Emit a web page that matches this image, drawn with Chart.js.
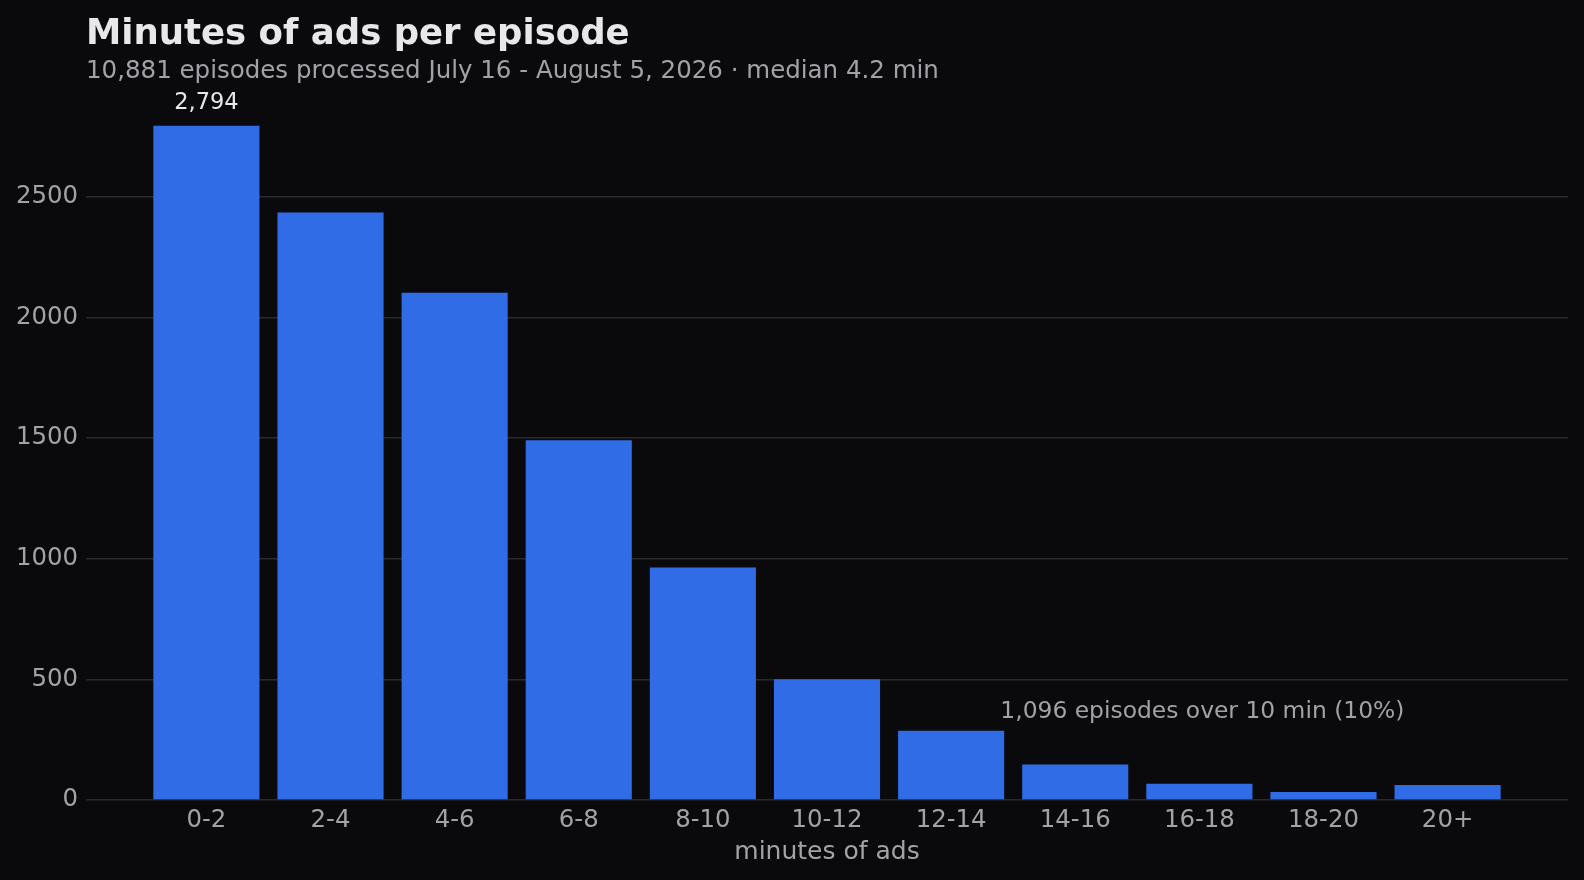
<!DOCTYPE html>
<html>
<head>
<meta charset="utf-8">
<title>Minutes of ads per episode</title>
<script src="https://cdn.jsdelivr.net/npm/chart.js@4.4.1/dist/chart.umd.min.js"></script>
<style>
  html, body { margin: 0; padding: 0; background: #0a0a0c; }
  #wrap { width: 1584px; height: 880px; }
</style>
</head>
<body>
<div id="wrap"><canvas id="myChart" width="1584" height="880"></canvas></div>
<script>
'use strict';

// chart data
let buckets = ['0-2', '2-4', '4-6', '6-8', '8-10', '10-12', '12-14', '14-16', '16-18', '18-20', '20+'];
let episodeCounts = [2794, 2435, 2102, 1491, 963, 500, 287, 147, 67, 33, 62];
let yTicks = [0, 500, 1000, 1500, 2000, 2500];

let titleText = 'Minutes of ads per episode';
let subtitleText = '10,881 episodes processed July 16 - August 5, 2026 \u00b7 median 4.2 min';
let xTitleText = 'minutes of ads';
let noteText = '1,096 episodes over 10 min (10%)';
let noteAt = [8, 365]; // bucket index, count

let font = '"DejaVu Sans", "Liberation Sans", sans-serif';
let bg = '#0a0a0c';
let barColor = '#2f6ce5';
let textLight = '#e8e8ea';
let textGray = '#a2a2a8';
let gridColor = '#2a2a2e';

// build points for a linear x axis so the margins match
let points = [];
for (let i = 0; i < episodeCounts.length; i++) {
  points.push({ x: i, y: episodeCounts[i] });
}

// draws title, labels and the note
let textPlugin = {
  id: 'textPlugin',
  beforeDraw(chart) {
    let ctx = chart.ctx;
    ctx.save();
    ctx.fillStyle = bg;
    ctx.fillRect(0, 0, chart.width, chart.height);
    ctx.restore();
  },
  afterDraw(chart) {
    let ctx = chart.ctx;
    let xs = chart.scales.x;
    let ys = chart.scales.y;
    let left = chart.chartArea.left;
    ctx.save();
    ctx.textBaseline = 'middle';

    ctx.fillStyle = textLight;
    ctx.font = 'bold 35.5px ' + font;
    ctx.textAlign = 'left';
    ctx.fillText(titleText, left, 35);

    ctx.fillStyle = textGray;
    ctx.font = '24.5px ' + font;
    ctx.fillText(subtitleText, left, 72);

    // largest bar gets its value on top
    let maxIdx = episodeCounts.indexOf(Math.max(...episodeCounts));
    ctx.textAlign = 'center';
    ctx.fillStyle = textLight;
    ctx.font = '22.5px ' + font;
    ctx.fillText(episodeCounts[maxIdx].toLocaleString('en-US'),
      xs.getPixelForValue(maxIdx), ys.getPixelForValue(episodeCounts[maxIdx]) - 23);

    ctx.fillStyle = textGray;
    ctx.font = '23.4px ' + font;
    ctx.fillText(noteText, xs.getPixelForValue(noteAt[0]) + 3, ys.getPixelForValue(noteAt[1]));

    ctx.font = '25px ' + font;
    ctx.fillText(xTitleText, (chart.chartArea.left + chart.chartArea.right) / 2, 852);
    ctx.restore();
  }
};

let config = {
  type: 'bar',
  data: {
    datasets: [{
      label: 'episodes',
      data: points,
      backgroundColor: barColor,
      borderWidth: 0,
      barPercentage: 0.855,
      categoryPercentage: 1
    }]
  },
  options: {
    responsive: false,
    animation: false,
    devicePixelRatio: 1,
    layout: { padding: { left: 0, right: 16, top: 92, bottom: 0 } },
    plugins: {
      legend: { display: false },
      tooltip: { enabled: false }
    },
    scales: {
      x: {
        type: 'linear',
        min: -0.97,
        max: 10.97,
        offset: false,
        grid: { display: false, drawTicks: false },
        border: { display: false },
        afterBuildTicks(scale) {
          scale.ticks = buckets.map((b, i) => ({ value: i }));
        },
        afterFit(scale) {
          scale.height = 80;
        },
        ticks: {
          color: textGray,
          font: { family: font, size: 24.4 },
          padding: 6,
          maxRotation: 0,
          autoSkip: false,
          callback: (v) => buckets[v]
        }
      },
      y: {
        min: 0,
        max: 2934,
        afterBuildTicks(scale) {
          scale.ticks = yTicks.map((v) => ({ value: v }));
        },
        afterFit(scale) {
          scale.width = 86;
        },
        grid: { color: gridColor, lineWidth: 1.5, drawTicks: false },
        border: { display: false },
        ticks: {
          color: textGray,
          font: { family: font, size: 24.4 },
          padding: 8,
          callback: (v) => String(v)
        }
      }
    }
  },
  plugins: [textPlugin]
};

const ctx = document.getElementById('myChart').getContext('2d');
const myChart = new Chart(ctx, config);
</script>
</body>
</html>
